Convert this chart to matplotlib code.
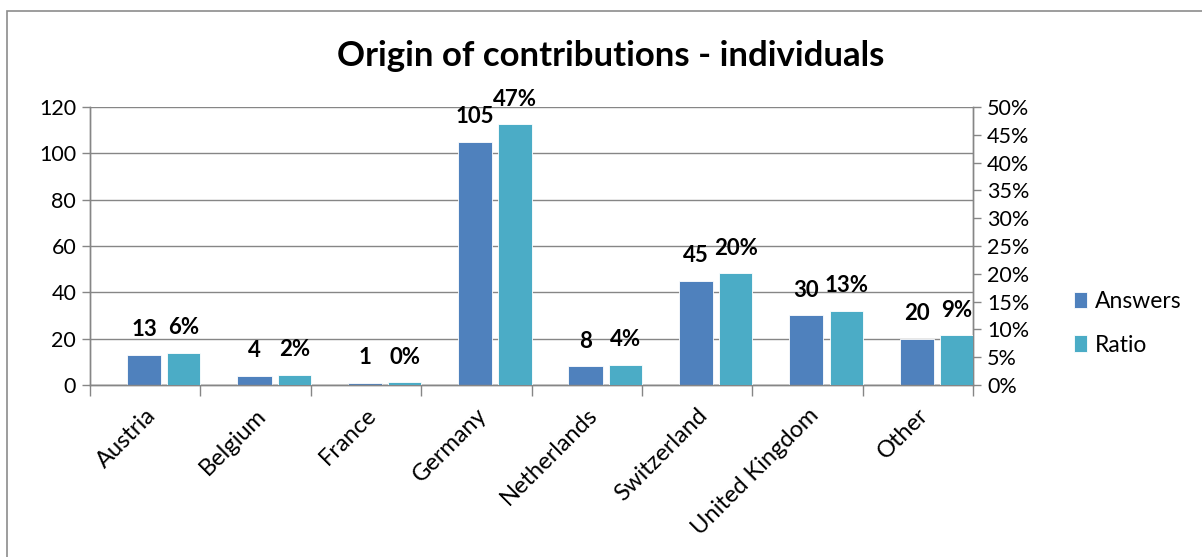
import matplotlib.pyplot as plt
from matplotlib.patches import Rectangle
from matplotlib.ticker import PercentFormatter

plt.rcParams['font.family'] = ['Lato', 'DejaVu Sans']

countries = ["Austria", "Belgium", "France", "Germany", "Netherlands",
             "Switzerland", "United Kingdom", "Other"]
answers = [13, 4, 1, 105, 8, 45, 30, 20]
ratio = [0.058, 0.0179, 0.0045, 0.4688, 0.0357, 0.2009, 0.1339, 0.0893]

BLUE = '#4F81BD'
TEAL = '#4BACC6'
GRID = '#868686'

fig = plt.figure(figsize=(12.02, 5.57), dpi=100)
ax = fig.add_axes([0.0749, 0.3088, 0.7346, 0.4991])
ax2 = ax.twinx()

idx = range(len(countries))
ans_x = [i + 0.49 for i in idx]
rat_x = [i + 0.85 for i in idx]

ax.bar(ans_x, answers, width=0.31, color=BLUE, edgecolor='white', linewidth=0.6, zorder=3, label='Answers')
ax2.bar(rat_x, ratio, width=0.30, color=TEAL, edgecolor='white', linewidth=0.6, zorder=3, label='Ratio')

for x, v in zip(ans_x, answers):
    ax.annotate(str(v), (x, v), xytext=(0, 13.5), textcoords='offset points',
                ha='center', va='baseline', fontsize=16, fontweight='bold')
for x, v in zip(rat_x, ratio):
    ax2.annotate('{:.0%}'.format(v), (x, v), xytext=(0, 13.5), textcoords='offset points',
                 ha='center', va='baseline', fontsize=16, fontweight='bold')

ax.set_xlim(0, len(countries))
ax.set_ylim(0, 120)
ax.set_yticks(range(0, 121, 20))
ax2.set_ylim(0, 0.5)
ax2.set_yticks([i * 0.05 for i in range(11)])
ax2.yaxis.set_major_formatter(PercentFormatter(1.0, decimals=0))

ax.set_xticks(range(len(countries) + 1))
ax.set_xticklabels([])
ax.set_xticks([i + 0.5 for i in idx], minor=True)
ax.set_xticklabels(countries, minor=True, rotation=45, ha='right',
                   rotation_mode='anchor', fontsize=17)
ax.tick_params(axis='x', which='minor', length=0, pad=14)
ax.tick_params(axis='x', which='major', length=8, color=GRID, width=1)
ax.tick_params(axis='y', length=6, color=GRID, width=1, labelsize=15.5, pad=4)
ax2.tick_params(axis='y', length=6, color=GRID, width=1, labelsize=15.5, pad=4)

ax.grid(axis='y', color=GRID, linewidth=1, zorder=0)
ax.set_axisbelow(True)
for a in (ax, ax2):
    a.spines['top'].set_visible(False)
    for s in ('left', 'right', 'bottom'):
        a.spines[s].set_color(GRID)
        a.spines[s].set_linewidth(1)

fig.text(0.508, 0.90, 'Origin of contributions - individuals', ha='center', va='center',
         fontsize=25, fontweight='bold')

h1, l1 = ax.get_legend_handles_labels()
h2, l2 = ax2.get_legend_handles_labels()
fig.legend(h1 + h2, l1 + l2, loc='center left', bbox_to_anchor=(0.876, 0.42),
           frameon=False, fontsize=16.5, handlelength=0.6, handleheight=0.7,
           handletextpad=0.35, labelspacing=1.0)

# chart border
fig.patches.append(Rectangle((7 / 1202, -0.1), 1.2, 1 - 11 / 557 + 0.1,
                             transform=fig.transFigure, fill=False,
                             edgecolor='#8c8c8c', linewidth=1.2))

fig.savefig('out.png', dpi=100)
